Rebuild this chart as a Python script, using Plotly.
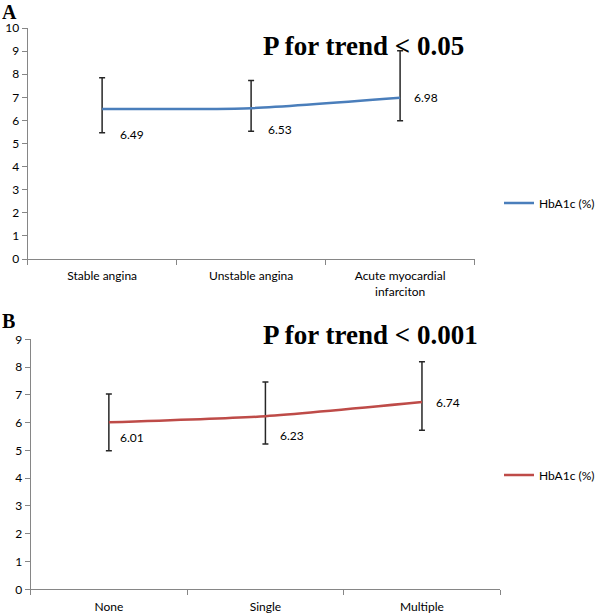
import plotly.graph_objects as go

# Panel A data
cats_a = ["Stable angina", "Unstable angina", "Acute myocardial<br>infarciton"]
vals_a = [6.49, 6.53, 6.98]
err_up_a = [1.36, 1.20, 2.04]
err_dn_a = [1.02, 1.00, 0.99]

# Panel B data
cats_b = ["None", "Single", "Multiple"]
vals_b = [6.01, 6.23, 6.74]
err_up_b = [1.02, 1.23, 1.45]
err_dn_b = [1.02, 1.00, 1.01]

series_name = "HbA1c (%)"
title_a = "P for trend < 0.05"
title_b = "P for trend < 0.001"

# label offsets (style)
lab_off_a = [(16, -25), (15, -21), (12, 0)]
lab_off_b = [(9, -15), (13, -19), (12, 0)]

W, H = 600, 616
tick_font = dict(family="Lato, Open Sans, sans-serif", size=12, color="#000")
axis_col = "#868686"
err_col = "#262626"

fig = go.Figure()
fig.add_trace(go.Scatter(
    x=cats_a, y=vals_a, mode="lines", name=series_name,
    line=dict(color="#4A7EBB", width=2.5, shape="spline", smoothing=0.6),
    error_y=dict(type="data", symmetric=False, array=err_up_a, arrayminus=err_dn_a,
                 color=err_col, thickness=1.5, width=3),
    xaxis="x", yaxis="y", legend="legend"))
fig.add_trace(go.Scatter(
    x=cats_b, y=vals_b, mode="lines", name=series_name,
    line=dict(color="#BE4B48", width=2.5, shape="spline", smoothing=0.6),
    error_y=dict(type="data", symmetric=False, array=err_up_b, arrayminus=err_dn_b,
                 color=err_col, thickness=1.5, width=3),
    xaxis="x2", yaxis="y2", legend="legend2"))

common_x = dict(type="category", range=[-0.5, 2.5], showline=True, linecolor=axis_col,
                linewidth=1, ticks="outside", tickson="boundaries", ticklen=5,
                tickcolor=axis_col, showgrid=False, zeroline=False, tickfont=tick_font,
                fixedrange=True, automargin=False, ticklabelstandoff=6)
common_y = dict(showline=True, linecolor=axis_col, linewidth=1, ticks="outside",
                ticklen=5, tickcolor=axis_col, showgrid=False, zeroline=False,
                dtick=1, tickfont=tick_font, fixedrange=True, automargin=False)

ax_a = (28 / W, 481 / W)
ay_a = (1 - 259 / H, 1 - 28 / H)
ax_b = (31 / W, 507 / W)
ay_b = (1 - 589.3 / H, 1 - 339.3 / H)

annotations = []
for c, v, (dx, dy) in zip(cats_a, vals_a, lab_off_a):
    annotations.append(dict(x=c, y=v, xref="x", yref="y", text=f"{v:.2f}", showarrow=False,
                            xanchor="left", yanchor="middle", xshift=dx, yshift=dy,
                            font=tick_font))
for c, v, (dx, dy) in zip(cats_b, vals_b, lab_off_b):
    annotations.append(dict(x=c, y=v, xref="x2", yref="y2", text=f"{v:.2f}", showarrow=False,
                            xanchor="left", yanchor="middle", xshift=dx, yshift=dy,
                            font=tick_font))
serif_bold = dict(family="Liberation Serif, Times New Roman, serif", size=27, color="#000")
label_font = dict(family="Liberation Serif, serif", size=20, color="#000")
annotations += [
    dict(x=265 / W, y=1 - 46 / H, xref="paper", yref="paper", text=f"<b>{title_a}</b>",
         showarrow=False, xanchor="left", yanchor="middle", font=serif_bold),
    dict(x=265 / W, y=1 - 335 / H, xref="paper", yref="paper", text=f"<b>{title_b}</b>",
         showarrow=False, xanchor="left", yanchor="middle", font=serif_bold),
    dict(x=1 / W, y=1 - 12 / H, xref="paper", yref="paper", text="<b>A</b>", borderpad=0,
         height=20, showarrow=False, xanchor="left", yanchor="middle", font=label_font),
    dict(x=1 / W, y=1 - 321 / H, xref="paper", yref="paper", text="<b>B</b>", borderpad=0,
         height=20, showarrow=False, xanchor="left", yanchor="middle", font=label_font),
]

leg_font = dict(family="Lato, Open Sans, sans-serif", size=12, color="#000")
fig.update_layout(
    width=W, height=H, margin=dict(l=0, r=0, t=0, b=0),
    paper_bgcolor="white", plot_bgcolor="white",
    xaxis=dict(domain=ax_a, anchor="y", **common_x),
    yaxis=dict(domain=ay_a, anchor="x", range=[0, 10], **common_y),
    xaxis2=dict(domain=ax_b, anchor="y2", **common_x),
    yaxis2=dict(domain=ay_b, anchor="x2", range=[0, 9], **common_y),
    legend=dict(x=506 / W, y=1 - 203 / H, xanchor="left", yanchor="middle",
                font=leg_font, bgcolor="rgba(0,0,0,0)", itemwidth=30),
    legend2=dict(x=506 / W, y=1 - 475 / H, xanchor="left", yanchor="middle",
                 font=leg_font, bgcolor="rgba(0,0,0,0)", itemwidth=30),
    showlegend=True,
    annotations=annotations,
)

fig.write_html(
    "out.html",
    config={"displayModeBar": False},
    post_script="document.body.style.margin='0';document.body.style.padding='0';",
)
